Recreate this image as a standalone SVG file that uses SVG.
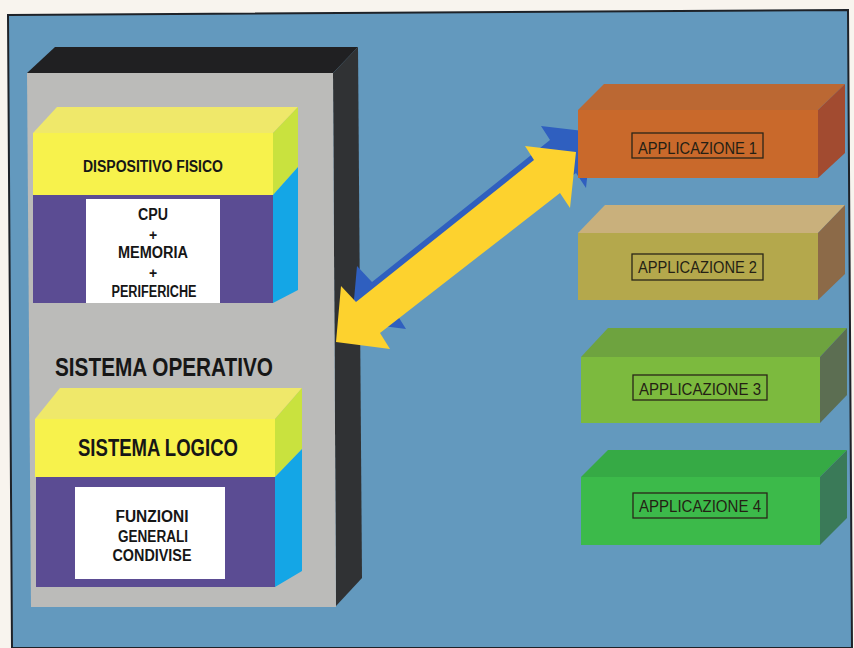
<svg xmlns="http://www.w3.org/2000/svg" width="854" height="648" viewBox="0 0 854 648">
<style>
.t{font-family:"Liberation Sans",Arial,sans-serif;font-weight:bold;fill:#161616;text-anchor:middle}
.lbl{font-family:"Liberation Sans",Arial,sans-serif;font-size:16px;fill:#241f14;text-anchor:middle}
.lbox{fill:none;stroke:#2a2618;stroke-width:1.3}
</style>
<defs>
<polygon id="arrowShape" points="576,152 525,146 534,160 356,302 341,286 336,342 390,349 380,333 560,193 570,208"/>
</defs>
<rect x="0" y="0" width="854" height="648" fill="#f8f4ee"/>
<polygon points="8,15 848,10 852,648 12,648" fill="#6399be" stroke="#1e2228" stroke-width="2"/>

<g id="sistema-operativo">
<polygon points="27,73 55,47 358,47 333,73" fill="#202022"/>
<polygon points="333,73 358,47 362,578 336,606" fill="#303234"/>
<polygon points="27,73 333,73 336,607 31,607" fill="#bbbbb9"/>
<text class="t" x="164" y="376" font-size="26" textLength="218" lengthAdjust="spacingAndGlyphs">SISTEMA OPERATIVO</text>
</g>

<g id="dispositivo-fisico">
<polygon points="33,133 57,107 298,107 273,133" fill="#efe86a"/>
<polygon points="273,133 298,107 298,167 273,195" fill="#c9e23e"/>
<polygon points="273,195 298,167 298,290 273,303" fill="#14a6e6"/>
<rect x="33" y="133" width="240" height="62" fill="#f7f24c"/>
<rect x="33" y="195" width="240" height="108" fill="#5b4c93"/>
<rect x="86" y="199" width="134" height="104" fill="#ffffff"/>
<text class="t" x="153" y="172" font-size="16" textLength="140" lengthAdjust="spacingAndGlyphs">DISPOSITIVO FISICO</text>
<text class="t" x="153" y="220" font-size="16" textLength="30" lengthAdjust="spacingAndGlyphs">CPU</text>
<text class="t" x="153" y="240" font-size="14">+</text>
<text class="t" x="153" y="258" font-size="16" textLength="70" lengthAdjust="spacingAndGlyphs">MEMORIA</text>
<text class="t" x="153" y="278" font-size="14">+</text>
<text class="t" x="154" y="297" font-size="16" textLength="85" lengthAdjust="spacingAndGlyphs">PERIFERICHE</text>
</g>

<g id="sistema-logico">
<polygon points="35,419 60,388 302,388 275,419" fill="#efe86a"/>
<polygon points="275,419 302,388 302,449 275,477" fill="#c9e23e"/>
<polygon points="275,477 302,449 302,571 275,587" fill="#14a6e6"/>
<rect x="35" y="419" width="240" height="58" fill="#f7f24c"/>
<rect x="36" y="477" width="239" height="110" fill="#5b4c93"/>
<rect x="75" y="487" width="150" height="92" fill="#ffffff"/>
<text class="t" x="158" y="456" font-size="23" textLength="160" lengthAdjust="spacingAndGlyphs">SISTEMA LOGICO</text>
<text class="t" x="152" y="522" font-size="16" textLength="73" lengthAdjust="spacingAndGlyphs">FUNZIONI</text>
<text class="t" x="153" y="542" font-size="16" textLength="70" lengthAdjust="spacingAndGlyphs">GENERALI</text>
<text class="t" x="152" y="561" font-size="16" textLength="79" lengthAdjust="spacingAndGlyphs">CONDIVISE</text>
</g>

<g id="connectors">
<use href="#arrowShape" transform="translate(16,-20)" fill="#2f5fbf"/>
<use href="#arrowShape" fill="#fdd22e"/>
</g>

<g id="applicazione-1">
<polygon points="578,110 604,84 845,84 818,110" fill="#bb6833"/>
<polygon points="818,110 845,84 845,153 818,178" fill="#a24b30"/>
<rect x="578" y="110" width="240" height="68" fill="#c9692b"/>
<rect class="lbox" x="632" y="133" width="131" height="25"/>
<text class="lbl" x="697.5" y="154" textLength="119" lengthAdjust="spacingAndGlyphs">APPLICAZIONE 1</text>
</g>

<g id="applicazione-2">
<polygon points="578,233 605,205 845,205 818,233" fill="#c9b07c"/>
<polygon points="818,233 845,205 845,274 818,300" fill="#8c6a48"/>
<rect x="578" y="233" width="240" height="67" fill="#b4a84c"/>
<rect class="lbox" x="632" y="254" width="131" height="26"/>
<text class="lbl" x="697.5" y="273" textLength="119" lengthAdjust="spacingAndGlyphs">APPLICAZIONE 2</text>
</g>

<g id="applicazione-3">
<polygon points="581,357 608,328 847,328 820,357" fill="#6ea33f"/>
<polygon points="820,357 847,328 847,395 820,423" fill="#5c6e52"/>
<rect x="581" y="357" width="239" height="66" fill="#7cba3e"/>
<rect class="lbox" x="633" y="375" width="134" height="25"/>
<text class="lbl" x="700" y="395" textLength="122" lengthAdjust="spacingAndGlyphs">APPLICAZIONE 3</text>
</g>

<g id="applicazione-4">
<polygon points="581,477 608,450 847,450 820,477" fill="#36aa45"/>
<polygon points="820,477 847,450 847,518 820,545" fill="#3a7a58"/>
<rect x="581" y="477" width="239" height="68" fill="#3cba4a"/>
<rect class="lbox" x="633" y="493" width="134" height="25"/>
<text class="lbl" x="700" y="512" textLength="122" lengthAdjust="spacingAndGlyphs">APPLICAZIONE 4</text>
</g>
</svg>
